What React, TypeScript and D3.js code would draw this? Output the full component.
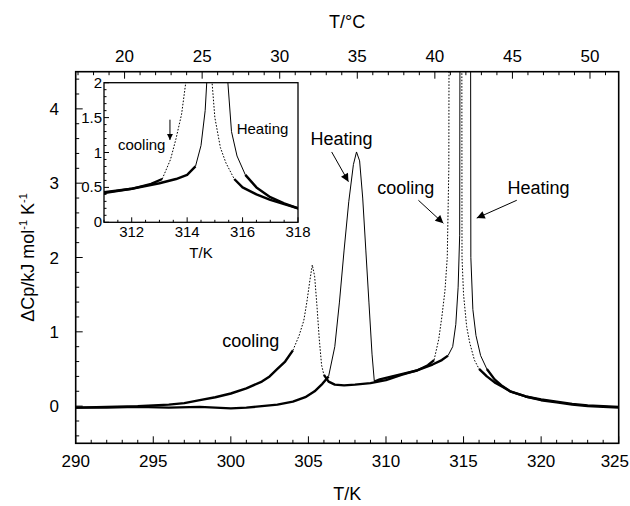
import React from 'react';
import * as d3 from 'd3';

// heating scan (K, kJ/mol/K), values above 4.5 are off scale
const heatingT = [290, 292, 294, 296, 298, 300, 301, 302, 303, 304, 304.8, 305.4, 305.9, 306.3, 306.7, 307.0, 307.3, 307.6, 307.9, 308.1, 308.3, 308.5, 308.7, 308.9, 309.1, 309.25, 309.6, 310, 311, 312, 313, 313.6, 314.0, 314.3, 314.5, 314.65, 314.75, 314.8, 315.43, 315.47, 315.6, 315.8, 316.1, 316.5, 317, 317.5, 318, 319, 320, 321, 322, 323, 324, 325];
const heatingCp = [-0.02, -0.02, -0.01, -0.02, -0.01, -0.03, -0.02, 0.0, 0.02, 0.06, 0.12, 0.2, 0.3, 0.4, 0.8, 1.4, 2.1, 2.75, 3.25, 3.42, 3.3, 2.8, 2.1, 1.4, 0.7, 0.33, 0.36, 0.38, 0.43, 0.48, 0.56, 0.62, 0.68, 0.8, 1.1, 1.6, 2.3, 9, 9, 2.0, 1.3, 0.95, 0.68, 0.5, 0.36, 0.27, 0.2, 0.13, 0.08, 0.05, 0.02, 0.0, -0.01, -0.02];

// cooling scan
const coolingT = [290, 292, 294, 296, 297, 298, 299, 300, 301, 302, 302.5, 303, 303.5, 304, 304.4, 304.7, 304.9, 305.1, 305.25, 305.4, 305.55, 305.7, 305.85, 306.0, 306.3, 306.7, 307.3, 308, 309, 310, 311, 312, 312.7, 313.1, 313.4, 313.6, 313.8, 313.95, 314.05, 314.1, 314.87, 314.9, 315.0, 315.2, 315.4, 315.7, 316.0, 316.5, 317, 317.5, 318, 319, 320, 321, 322, 323, 324, 325];
const coolingCp = [-0.02, -0.01, 0.0, 0.02, 0.04, 0.08, 0.12, 0.17, 0.24, 0.33, 0.4, 0.5, 0.6, 0.75, 0.95, 1.15, 1.4, 1.7, 1.9, 1.75, 1.35, 0.9, 0.55, 0.42, 0.33, 0.29, 0.28, 0.29, 0.31, 0.35, 0.42, 0.48, 0.55, 0.62, 0.9, 1.2, 1.55, 2.0, 3.2, 9, 9, 2.0, 1.5, 1.07, 0.85, 0.62, 0.5, 0.4, 0.32, 0.26, 0.2, 0.13, 0.09, 0.06, 0.03, 0.01, 0.0, -0.01];

const xTicks = [290, 295, 300, 305, 310, 315, 320, 325];
const yTicks = [0, 1, 2, 3, 4];
const celsiusTicks = [20, 25, 30, 35, 40, 45, 50];
const insetXTicks = [312, 314, 316, 318];
const insetYTicks = [0, 0.5, 1, 1.5, 2];

const FONT = '"Liberation Sans", Arial, Helvetica, sans-serif';

// plot frames
const M = { left: 75.7, right: 618.7, top: 71.7, bottom: 443.3 };
const IN = { left: 104, right: 298, top: 82.7, bottom: 222.3 };

const x = d3.scaleLinear().domain([290, 325]).range([M.left, M.right]);
const y = d3.scaleLinear().domain([-0.5, 4.5]).range([M.bottom, M.top]);
const xc = d3.scaleLinear().domain([290 - 273.15, 325 - 273.15]).range([M.left, M.right]);
const ix = d3.scaleLinear().domain([311, 318]).range([IN.left, IN.right]);
const iy = d3.scaleLinear().domain([0, 2]).range([IN.bottom, IN.top]);

// split curve into flat (noisy, thick) and steep (thin) runs
function runs(ts: number[], vs: number[], sx: any, sy: any) {
  const pts = ts.map((t, i) => [sx(t), sy(vs[i])] as [number, number]);
  const out: { steep: boolean; pts: [number, number][] }[] = [];
  for (let i = 0; i < pts.length - 1; i++) {
    const [x1, y1] = pts[i];
    const [x2, y2] = pts[i + 1];
    const steep = Math.abs(y2 - y1) > 1.8 * Math.abs(x2 - x1);
    const last = out[out.length - 1];
    if (last && last.steep === steep) last.pts.push(pts[i + 1]);
    else out.push({ steep, pts: [pts[i], pts[i + 1]] });
  }
  return out;
}

const line = d3.line<[number, number]>();

function Curve({ ts, vs, sx, sy, dashed }: any) {
  return (
    <g>
      {runs(ts, vs, sx, sy).map((r, i) => (
        <path
          key={i}
          d={line(r.pts) || ''}
          fill="none"
          stroke="#000"
          strokeWidth={r.steep ? 1 : 2.4}
          strokeDasharray={r.steep && dashed ? '1.6 1.6' : undefined}
          strokeLinejoin="round"
        />
      ))}
    </g>
  );
}

const range = (a: number, b: number, s: number) => d3.range(a, b + s / 2, s);

export default function App() {
  const ticksBottom = range(290, 325, 1);
  const ticksLeft = range(-0.4, 4.4, 0.2);
  const ticksTop = range(17, 51, 1);
  const iTicksX = range(311, 318, 0.5);
  const iTicksY = range(0, 2, 0.1);

  return (
    <svg width={630} height={506} style={{ position: 'absolute', left: 0, top: 0, fontFamily: FONT }}>
      <defs>
        <clipPath id="mainClip">
          <rect x={M.left} y={M.top} width={M.right - M.left} height={M.bottom - M.top} />
        </clipPath>
        <clipPath id="insetClip">
          <rect x={IN.left} y={IN.top} width={IN.right - IN.left} height={IN.bottom - IN.top} />
        </clipPath>
        <marker id="ah" viewBox="0 0 10 10" refX={10} refY={5} markerWidth={13} markerHeight={8} markerUnits="userSpaceOnUse" orient="auto">
          <path d="M0,0 L10,5 L0,10 z" fill="#000" />
        </marker>
        <marker id="ahs" viewBox="0 0 10 10" refX={10} refY={5} markerWidth={8} markerHeight={6} markerUnits="userSpaceOnUse" orient="auto">
          <path d="M0,0 L10,5 L0,10 z" fill="#000" />
        </marker>
      </defs>

      {/* main data */}
      <g clipPath="url(#mainClip)">
        <Curve ts={coolingT} vs={coolingCp} sx={x} sy={y} dashed />
        <Curve ts={heatingT} vs={heatingCp} sx={x} sy={y} />
      </g>

      {/* main frame and ticks */}
      <rect x={M.left} y={M.top} width={M.right - M.left} height={M.bottom - M.top} fill="none" stroke="#000" strokeWidth={1.6} />
      {ticksBottom.map(t => {
        const major = Math.abs(t % 5) < 1e-6;
        return <line key={'b' + t} x1={x(t)} x2={x(t)} y1={M.bottom} y2={M.bottom - (major ? 7 : 3.5)} stroke="#000" strokeWidth={1} />;
      })}
      {ticksLeft.map(t => {
        const major = Math.abs(t - Math.round(t)) < 1e-6;
        return <line key={'l' + t} x1={M.left} x2={M.left + (major ? 7 : 3.5)} y1={y(t)} y2={y(t)} stroke="#000" strokeWidth={1} />;
      })}
      {ticksTop.map(t => {
        const major = t % 5 === 0;
        return <line key={'t' + t} x1={xc(t)} x2={xc(t)} y1={M.top} y2={M.top + (major ? 7 : 3.5)} stroke="#000" strokeWidth={1} />;
      })}
      {xTicks.map((t, i) => (
        <text key={'bl' + t} x={i === xTicks.length - 1 ? 629 : x(t)} y={467} textAnchor={i === xTicks.length - 1 ? 'end' : 'middle'} fontSize={17}>{t}</text>
      ))}
      {yTicks.map(t => (
        <text key={'yl' + t} x={59} y={y(t) + 6} textAnchor="end" fontSize={17}>{t}</text>
      ))}
      {celsiusTicks.map(t => (
        <text key={'cl' + t} x={xc(t)} y={62} textAnchor="middle" fontSize={17}>{t}</text>
      ))}
      <text x={(M.left + M.right) / 2} y={500} textAnchor="middle" fontSize={18}>T/K</text>
      <text x={(M.left + M.right) / 2} y={28} textAnchor="middle" fontSize={18}>T/°C</text>
      <text transform={`translate(34,${(M.top + M.bottom) / 2}) rotate(-90)`} textAnchor="middle" fontSize={18}>
        ΔCp/kJ mol<tspan dy={-7} fontSize={11}>-1</tspan><tspan dy={7}> K</tspan><tspan dy={-7} fontSize={11}>-1</tspan>
      </text>

      {/* main annotations */}
      <text x={x(307.14)} y={y(3.52)} textAnchor="middle" fontSize={18}>Heating</text>
      <line x1={x(306.5)} y1={y(3.42)} x2={x(307.58)} y2={y(3.02)} stroke="#000" strokeWidth={1} markerEnd="url(#ah)" />
      <text x={x(311.28)} y={y(2.85)} textAnchor="middle" fontSize={18}>cooling</text>
      <line x1={x(312.09)} y1={y(2.77)} x2={x(313.7)} y2={y(2.46)} stroke="#000" strokeWidth={1} markerEnd="url(#ah)" />
      <text x={x(319.83)} y={y(2.85)} textAnchor="middle" fontSize={18}>Heating</text>
      <line x1={x(318.43)} y1={y(2.77)} x2={x(315.85)} y2={y(2.53)} stroke="#000" strokeWidth={1} markerEnd="url(#ah)" />
      <text x={x(301.29)} y={y(0.8)} textAnchor="middle" fontSize={18}>cooling</text>

      {/* inset */}
      <rect x={IN.left} y={IN.top} width={IN.right - IN.left} height={IN.bottom - IN.top} fill="#fff" />
      <g clipPath="url(#insetClip)">
        <Curve ts={coolingT} vs={coolingCp} sx={ix} sy={iy} dashed />
        <Curve ts={heatingT} vs={heatingCp} sx={ix} sy={iy} />
      </g>
      <rect x={IN.left} y={IN.top} width={IN.right - IN.left} height={IN.bottom - IN.top} fill="none" stroke="#000" strokeWidth={1.3} />
      {iTicksX.map(t => {
        const major = Math.abs(t % 2) < 1e-6;
        return <line key={'ib' + t} x1={ix(t)} x2={ix(t)} y1={IN.bottom} y2={IN.bottom - (major ? 5 : 2.5)} stroke="#000" strokeWidth={1} />;
      })}
      {iTicksY.map(t => {
        const major = Math.abs(t * 2 - Math.round(t * 2)) < 1e-6;
        return <line key={'il' + t} x1={IN.left} x2={IN.left + (major ? 5 : 2.5)} y1={iy(t)} y2={iy(t)} stroke="#000" strokeWidth={1} />;
      })}
      {insetXTicks.map(t => (
        <text key={'ixl' + t} x={ix(t)} y={237} textAnchor="middle" fontSize={15}>{t}</text>
      ))}
      {insetYTicks.map(t => (
        <text key={'iyl' + t} x={IN.left - 2} y={iy(t) + 5} textAnchor="end" fontSize={15}>{t}</text>
      ))}
      <text x={ix(314.5)} y={258} textAnchor="middle" fontSize={15}>T/K</text>
      <text x={ix(312.36)} y={iy(1.03)} textAnchor="middle" fontSize={15}>cooling</text>
      <line x1={ix(313.38)} y1={iy(1.47)} x2={ix(313.38)} y2={iy(1.18)} stroke="#000" strokeWidth={1} markerEnd="url(#ahs)" />
      <text x={ix(316.72)} y={iy(1.27)} textAnchor="middle" fontSize={15}>Heating</text>
    </svg>
  );
}
